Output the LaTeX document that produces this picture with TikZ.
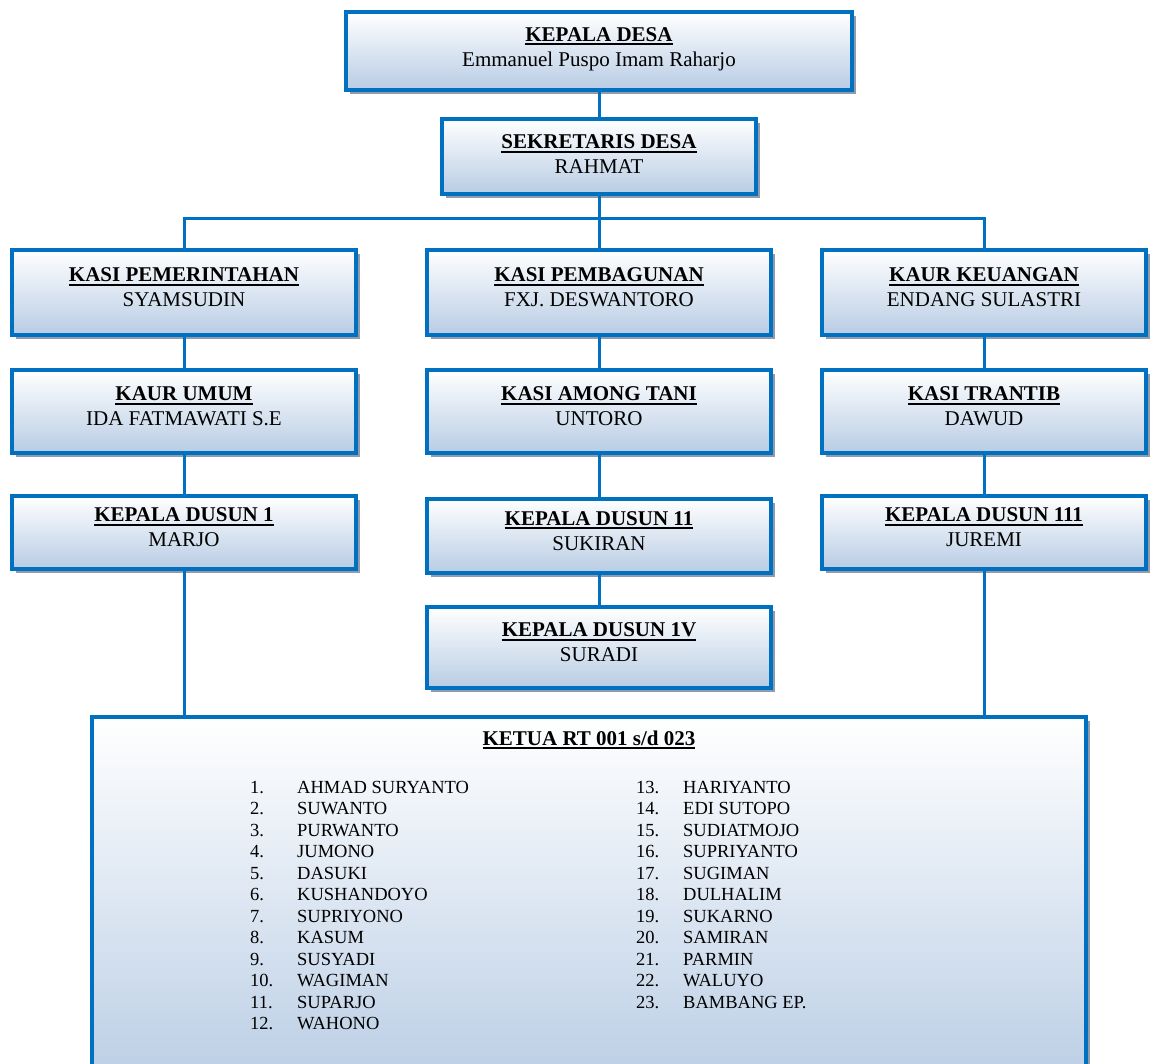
\documentclass[tikz,border=0pt]{standalone}
\usepackage{fontspec}
\setmainfont{Liberation Serif}
\usetikzlibrary{shadows}
\definecolor{oblue}{RGB}{0,112,192}
\definecolor{ofill}{RGB}{184,204,228}
\definecolor{oshadow}{RGB}{145,155,172}
\newcommand\myul[1]{\setbox0=\hbox{#1}\rlap{\rule[-4pt]{\wd0}{2pt}}\box0}
\tikzset{
  obox/.style={draw=oblue, line width=4pt, top color=white, bottom color=ofill,
    inner sep=0pt, outer sep=0pt,
    general shadow={fill=oshadow, shadow xshift=4pt, shadow yshift=-4pt}},
  otext/.style={align=center, inner sep=0pt, font=\fontsize{21}{25}\selectfont},
  conn/.style={draw=oblue, line width=3pt},
  litem/.style={anchor=base west, inner sep=0pt, font=\fontsize{18.5}{20}\selectfont},
}
\newcommand\obx[8]{%
  \node[obox, minimum width={#4-#2-4}, minimum height={#5-#3-4}] (#1) at ({(#2+#4)/2},{(#3+#5)/2}) {};
  \node[otext] (#1t) at ([yshift=#8pt]#1.center) {\myul{\textbf{#6}}\\#7};}
\begin{document}
\begin{tikzpicture}[x=1pt,y=-1pt]
\useasboundingbox (0,0) rectangle (1156,1064);
% boxes
\obx{kd}{344}{10}{854}{92}{KEPALA DESA}{Emmanuel Puspo Imam Raharjo}{2}
\obx{sd}{440}{117}{758}{196}{SEKRETARIS DESA}{RAHMAT}{2}
\obx{kp}{10}{248}{358}{337}{KASI PEMERINTAHAN}{SYAMSUDIN}{5}
\obx{kpb}{425}{248}{773}{337}{KASI PEMBAGUNAN}{FXJ. DESWANTORO}{5}
\obx{kk}{820}{248}{1148}{337}{KAUR KEUANGAN}{ENDANG SULASTRI}{5}
\obx{ku}{10}{368}{358}{455}{KAUR UMUM}{IDA FATMAWATI S.E}{5}
\obx{kat}{425}{368}{773}{455}{KASI AMONG TANI}{UNTORO}{5}
\obx{kt}{820}{368}{1148}{455}{KASI TRANTIB}{DAWUD}{5}
\obx{d1}{10}{494}{358}{571}{KEPALA DUSUN 1}{MARJO}{5}
\obx{d2}{425}{497}{773}{575}{KEPALA DUSUN 11}{SUKIRAN}{5}
\obx{d3}{820}{494}{1148}{571}{KEPALA DUSUN 111}{JUREMI}{5}
\obx{d4}{425}{605}{773}{690}{KEPALA DUSUN 1V}{SURADI}{5}
\node[obox, minimum width=994, minimum height=380] (rt) at (589,907) {};
\node[anchor=base, inner sep=0pt, font=\fontsize{21}{25}\selectfont] (rtt) at (589,745) {\myul{\textbf{KETUA RT 001 s/d 023}}};
\foreach \t [count=\i] in {AHMAD SURYANTO,SUWANTO,PURWANTO,JUMONO,DASUKI,KUSHANDOYO,SUPRIYONO,KASUM,SUSYADI,WAGIMAN,SUPARJO,WAHONO}{
  \node[litem] (nl\i) at (250,{793+21.5*(\i-1)}) {\i.};
  \node[litem] (tl\i) at (297,{793+21.5*(\i-1)}) {\t};
}
\foreach \t [count=\i] in {HARIYANTO,EDI SUTOPO,SUDIATMOJO,SUPRIYANTO,SUGIMAN,DULHALIM,SUKARNO,SAMIRAN,PARMIN,WALUYO,BAMBANG EP.}{
  \pgfmathtruncatemacro\n{\i+12}
  \node[litem] (nr\i) at (636,{793+21.5*(\i-1)}) {\n.};
  \node[litem] (tr\i) at (683,{793+21.5*(\i-1)}) {\t};
}
% connectors
\coordinate (hub) at (599,219);
\draw[conn] (kd.south) -- (sd.north);
\draw[conn] (sd.south) -- (hub);
\draw[conn] (kp.north) |- (hub) -| (kk.north);
\draw[conn] (hub) -- (kpb.north);
\draw[conn] (kp.south) -- (ku.north);
\draw[conn] (ku.south) -- (d1.north);
\draw[conn] (d1.south) -- (d1.south |- rt.north);
\draw[conn] (kpb.south) -- (kat.north);
\draw[conn] (kat.south) -- (d2.north);
\draw[conn] (d2.south) -- (d4.north);
\draw[conn] (kk.south) -- (kt.north);
\draw[conn] (kt.south) -- (d3.north);
\draw[conn] (d3.south) -- (d3.south |- rt.north);
\end{tikzpicture}
\end{document}
